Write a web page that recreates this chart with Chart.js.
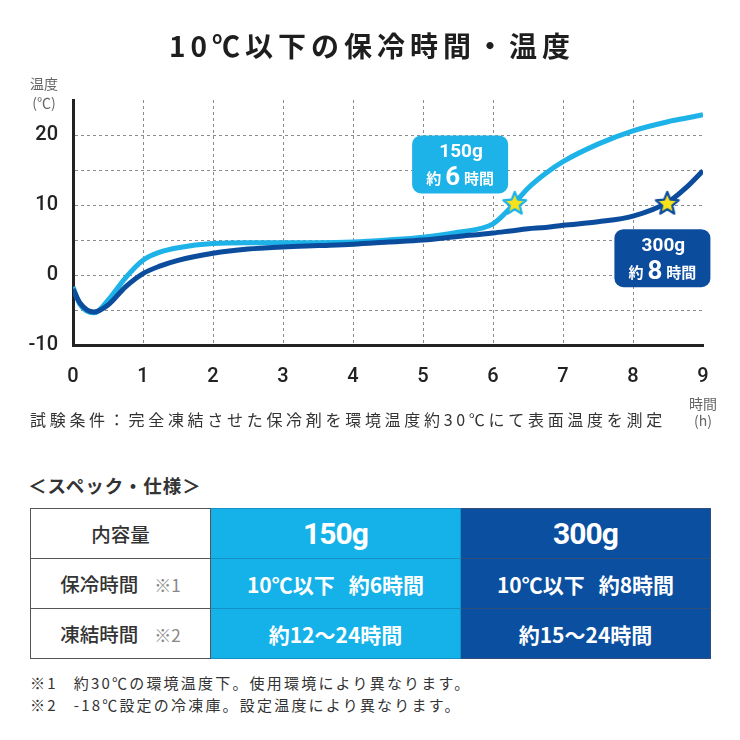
<!DOCTYPE html>
<html lang="ja">
<head>
<meta charset="utf-8">
<script src="https://cdn.jsdelivr.net/npm/chart.js@4.4.1/dist/chart.umd.min.js"></script>
<style>
  body { margin: 0; background: #fff; font-family: "Noto Sans CJK JP", sans-serif; color: #222; }
  #page { position: relative; width: 740px; height: 740px; overflow: hidden; background: #fff; }
  #chart { position: absolute; left: 0; top: 0; }
  .abs { position: absolute; white-space: nowrap; }
  #title { left: 0; top: 30px; width: 740px; text-align: center; font-size: 28px; line-height: 30px; font-weight: 700; letter-spacing: 5px; padding-left: 2px; color: #1e1e1e; }
  .unit { font-size: 14px; line-height: 18px; color: #666; text-align: center; width: 40px; }
  #note { left: 30px; top: 409px; font-size: 16px; line-height: 20px; letter-spacing: 3.7px; color: #333; }
  #specHead { left: 28px; top: 474px; font-size: 18.5px; line-height: 22px; font-weight: 700; letter-spacing: 1px; color: #333; }
  #spec { position: absolute; left: 30px; top: 508px; border-collapse: collapse; table-layout: fixed; }
  #spec td { height: 49px; padding: 0; text-align: center; vertical-align: middle; white-space: nowrap; }
  #spec td.head { width: 179px; border: 1.5px solid #555; font-size: 19.5px; font-weight: 500; color: #333; background: #fff; }
  #spec td.head small { font-size: 17px; color: #888; font-weight: 400; margin-left: 16px; }
  #spec td.c150 { width: 249px; background: #14b2e9; color: #fff; border: 1px solid #1590c4; font-weight: 700; font-size: 21px; }
  #spec td.c300 { width: 249px; background: #0a4fa0; color: #fff; border: 1px solid #2f4f78; font-weight: 700; font-size: 21px; }
  #spec td.big { font-family: Roboto, "Noto Sans CJK JP", sans-serif; font-size: 30px; letter-spacing: -1px; }
  #spec .gap { display: inline-block; width: 14px; }
  .foot { left: 30px; font-size: 15px; line-height: 20px; letter-spacing: 2.2px; color: #333; }
  .foot .gap { display: inline-block; width: 16px; }
</style>
</head>
<body>
<div id="page">
  <canvas id="chart" width="740" height="440"></canvas>
  <div id="title" class="abs">10℃以下の保冷時間・温度</div>
  <div class="abs unit" style="left:24px; top:74px;">温度</div>
  <div class="abs unit" style="left:24px; top:93px;">(℃)</div>
  <div class="abs unit" style="left:683px; top:394px;">時間</div>
  <div class="abs unit" style="left:683px; top:411px;">(h)</div>
  <div id="note" class="abs">試験条件：完全凍結させた保冷剤を環境温度約30℃にて表面温度を測定</div>
  <div id="specHead" class="abs">＜スペック・仕様＞</div>
  <table id="spec">
    <tr><td class="head">内容量</td><td class="c150 big">150g</td><td class="c300 big">300g</td></tr>
    <tr><td class="head">保冷時間<small>※1</small></td><td class="c150">10℃以下<span class="gap"></span>約6時間</td><td class="c300">10℃以下<span class="gap"></span>約8時間</td></tr>
    <tr><td class="head">凍結時間<small>※2</small></td><td class="c150">約12〜24時間</td><td class="c300">約15〜24時間</td></tr>
  </table>
  <div class="abs foot" style="top:673px;">※1<span class="gap"></span>約30℃の環境温度下。使用環境により異なります。</div>
  <div class="abs foot" style="top:695px;">※2<span class="gap"></span>-18℃設定の冷凍庫。設定温度により異なります。</div>
</div>
<script>
// elapsed time (h) and surface temperature (°C)
const hours = [0, 0.1, 0.3, 0.5, 0.75, 1, 1.25, 1.5, 2, 2.5, 3, 3.5, 4, 4.5, 5, 5.5, 6, 6.25, 6.5, 6.75, 7, 7.5, 8, 8.5, 8.75, 9];
const temp150 = [-1.7, -4.2, -5.4, -3.6, -0.4, 2.1, 3.3, 3.9, 4.5, 4.6, 4.6, 4.6, 4.7, 5.0, 5.4, 6.1, 7.3, 9.6, 12.4, 14.5, 16.2, 18.7, 20.6, 21.9, 22.4, 22.9];
const temp300 = [-2.0, -4.0, -5.3, -4.3, -1.7, 0.2, 1.3, 2.1, 3.1, 3.7, 4.0, 4.2, 4.4, 4.7, 5.0, 5.5, 6.0, 6.3, 6.6, 6.8, 7.1, 7.6, 8.4, 10.4, 12.4, 14.9];

// 10°C crossing marks
const starHours = [6.31, 8.49];
const starTemps = [10.3, 10.3];

// callout labels
const labelWeights = ["150g", "300g"];
const labelHours = ["6", "8"];

// axis ticks
const xTicks = [0, 1, 2, 3, 4, 5, 6, 7, 8, 9];
const yTicks = [-10, 0, 10, 20];

const LIGHT = "#1db2e8";
const DARK = "#0b4c9d";

function toPoints(xs, ys) {
  return xs.map((x, i) => ({ x: x, y: ys[i] }));
}

// star image used as point style
function makeStar(stroke) {
  const c = document.createElement("canvas");
  c.width = 28;
  c.height = 28;
  const g = c.getContext("2d");
  g.beginPath();
  for (let i = 0; i < 10; i++) {
    const r = i % 2 ? 5.3 : 12;
    const a = -Math.PI / 2 + i * Math.PI / 5;
    g.lineTo(14 + r * Math.cos(a), 15 + r * Math.sin(a));
  }
  g.closePath();
  g.fillStyle = "#f7e21b";
  g.fill();
  g.lineJoin = "round";
  g.lineWidth = 2.2;
  g.strokeStyle = stroke;
  g.stroke();
  return c;
}

function roundRect(ctx, x, y, w, h, r) {
  ctx.beginPath();
  ctx.moveTo(x + r, y);
  ctx.arcTo(x + w, y, x + w, y + h, r);
  ctx.arcTo(x + w, y + h, x, y + h, r);
  ctx.arcTo(x, y + h, x, y, r);
  ctx.arcTo(x, y, x + w, y, r);
  ctx.closePath();
}

// callout boxes anchored in data coordinates
const calloutPlugin = {
  id: "callouts",
  afterDatasetsDraw(chart) {
    const { ctx, scales } = chart;
    const anchors = [
      { h: 5.53, t: 15.8, color: LIGHT },
      { h: 8.42, t: 2.4, color: DARK },
    ];
    anchors.forEach((a, i) => {
      const cx = scales.x.getPixelForValue(a.h);
      const cy = scales.y.getPixelForValue(a.t);
      const w = 96, h = 58;
      ctx.save();
      roundRect(ctx, cx - w / 2, cy - h / 2, w, h, 9);
      ctx.fillStyle = a.color;
      ctx.fill();
      ctx.fillStyle = "#fff";
      ctx.textAlign = "center";
      ctx.textBaseline = "middle";
      ctx.font = "700 19px Roboto, 'Noto Sans CJK JP', sans-serif";
      ctx.fillText(labelWeights[i], cx + 1, cy - 12);

      const parts = [
        { s: "約", f: "700 15px 'Noto Sans CJK JP', sans-serif", gap: 4 },
        { s: labelHours[i], f: "700 26px Roboto, sans-serif", gap: 4 },
        { s: "時間", f: "700 15px 'Noto Sans CJK JP', sans-serif", gap: 0 },
      ];
      let total = 0;
      parts.forEach(p => { ctx.font = p.f; p.w = ctx.measureText(p.s).width; total += p.w + p.gap; });
      let x = cx - total / 2;
      ctx.textAlign = "left";
      parts.forEach(p => {
        ctx.font = p.f;
        ctx.fillText(p.s, x, cy + 14);
        x += p.w + p.gap;
      });
      ctx.restore();
    });
  },
};

const gridColor = "#8c8c8c";

new Chart(document.getElementById("chart"), {
  type: "line",
  data: {
    datasets: [
      {
        label: "stars",
        data: toPoints(starHours, starTemps),
        showLine: false,
        pointStyle: [makeStar(LIGHT), makeStar(DARK)],
        pointRadius: 6,
        order: 0,
      },
      {
        label: "300g",
        data: toPoints(hours, temp300),
        borderColor: DARK,
        borderWidth: 5,
        pointRadius: 0,
        cubicInterpolationMode: "monotone",
        order: 1,
      },
      {
        label: "150g",
        data: toPoints(hours, temp150),
        borderColor: LIGHT,
        borderWidth: 5,
        pointRadius: 0,
        cubicInterpolationMode: "monotone",
        order: 2,
      },
    ],
  },
  options: {
    responsive: false,
    animation: false,
    layout: { padding: { left: 0, right: 37, top: 100, bottom: 0 } },
    plugins: { legend: { display: false }, tooltip: { enabled: false }, title: { display: false } },
    scales: {
      x: {
        type: "linear",
        min: 0,
        max: 9,
        afterFit: s => { s.height = 95; },
        afterBuildTicks: s => { s.ticks = xTicks.map(v => ({ value: v })); },
        ticks: {
          padding: 20,
          color: "#222",
          font: { family: "Roboto", size: 20, weight: "500" },
        },
        grid: {
          drawTicks: false,
          lineWidth: 1,
          color: c => (c.tick && (c.tick.value === 0 || c.tick.value === 9) ? "transparent" : gridColor),
        },
        border: { display: true, color: "#222", width: 3, dash: [3, 3] },
      },
      y: {
        min: -10,
        max: 25,
        afterFit: s => { s.width = 73; },
        afterBuildTicks: s => {
          const t = [];
          for (let v = -10; v <= 25; v += 5) t.push({ value: v });
          s.ticks = t;
        },
        ticks: {
          padding: 15,
          color: "#222",
          font: { family: "Roboto", size: 20, weight: "500" },
          callback: v => (yTicks.includes(v) ? String(v) : ""),
        },
        grid: {
          drawTicks: false,
          lineWidth: 1,
          color: c => (c.tick && (c.tick.value === 25 || c.tick.value === -10) ? "transparent" : gridColor),
        },
        border: { display: true, color: "#222", width: 3, dash: [3, 3] },
      },
    },
  },
  plugins: [calloutPlugin],
});
</script>
</body>
</html>
